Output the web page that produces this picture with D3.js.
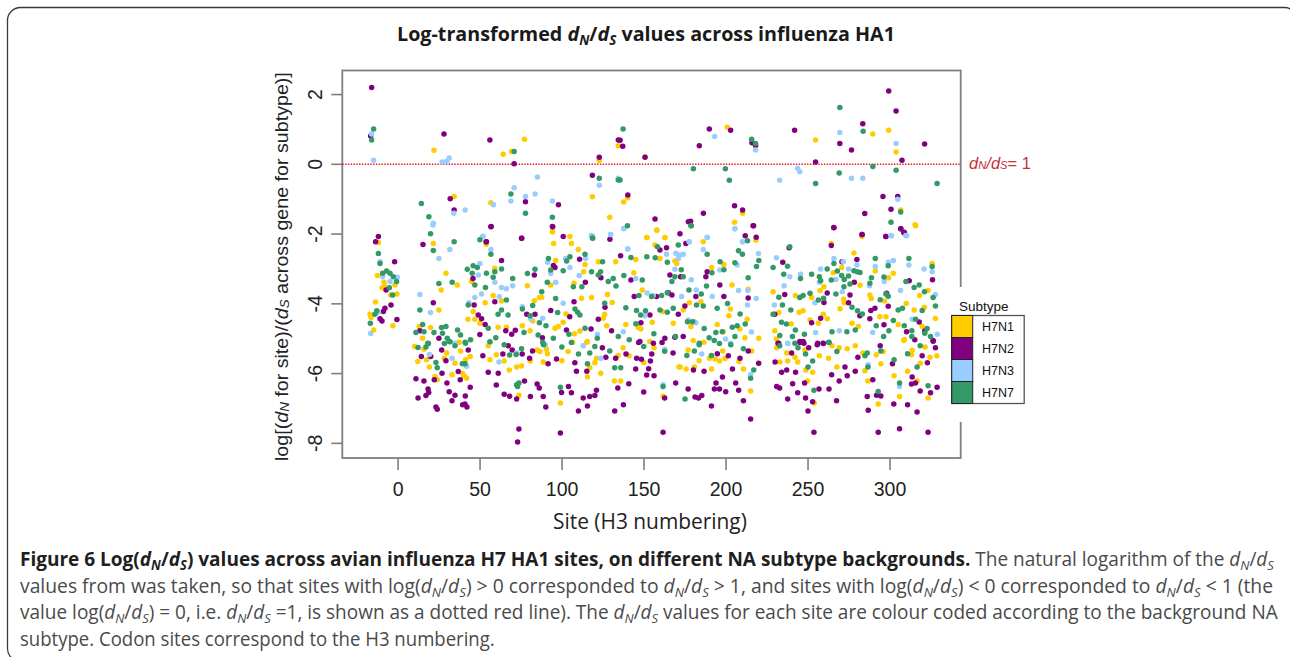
<!DOCTYPE html>
<html><head><meta charset="utf-8">
<script src="https://cdn.jsdelivr.net/npm/d3@7/dist/d3.min.js"></script>
<style>html,body{margin:0;padding:0;background:#fff;overflow:hidden}svg{display:block}</style>
</head><body><div id="chart"></div>
<script>
const subtypes = ["H7N1","H7N2","H7N3","H7N7"];
const subtypeColors = ["#ffcc00","#800080","#99ccff","#339966"];
const xTicks = [0,50,100,150,200,250,300];
const yTicks = [2,0,-2,-4,-6,-8];
const titleText = "values across influenza HA1";

const h7n1 = [[-11.7,-2.24],[21.8,-2.27],[54,-2.29],[29.5,-3.12],[36.4,-3.46],[26.6,-3.6],[-12.3,-3.19],[-8.3,-3.38],[-9.5,-3.54],[-7.7,-3.5],[-1.6,-3.46],[-0.4,-3.72],[-4.2,-3.75],[-13.4,-3.95],[25.2,-4.18],[-16.8,-4.3],[-16.2,-4.39],[-2.8,-4.63],[-14.6,-4.75],[59.3,-2.98],[58.3,-3.76],[53.4,-3.97],[46.1,-4.22],[42.9,-4.44],[47.1,-4.44],[50.2,-4.56],[61.3,-4.67],[66.4,-4.67],[63.4,-3.92],[13.2,-4.65],[20.1,-4.68],[15.3,-4.99],[37.6,-5.1],[45.1,-3.36],
[94.6,-1.93],[105.1,-2.07],[95.2,-2.27],[106,-2.27],[110.2,-2.44],[158,-1.88],[152,-2.1],[157,-2.31],[96.4,-2.76],[114.3,-2.87],[113.5,-3.08],[122.4,-2.79],[133,-2.79],[145.3,-2.73],[144.1,-3.11],[93.4,-3.46],[79.2,-3.48],[107.6,-3.41],[112.2,-3.84],[118.3,-3.82],[128,-3.73],[130.9,-3.96],[149.2,-3.6],[83.4,-3.91],[87.9,-3.81],[86.5,-3.82],[102.7,-4.29],[126.3,-4.3],[125.4,-4.41],[127.5,-4.63],[139.2,-4.59],[146.8,-4.68],[148.4,-4.72],[155.3,-4.53],[76.1,-4.63],[80.8,-4.77],[82.4,-4.49],[98,-4.65],[96,-4.7],[101,-4.53],[107.8,-4.86],[111.2,-4.78],[106.8,-5.1],[115.7,-5.08],
[163,-2.1],[186.4,-2.22],[160,-2.7],[169.1,-2.77],[170.2,-2.84],[191.5,-2.96],[199,-2.87],[204,-3.46],[213.8,-3.58],[229,-3.65],[242.6,-3.76],[177.9,-3.97],[185,-3.94],[174.2,-4.18],[161.6,-4.22],[203,-4.15],[202,-4.34],[213.2,-4.44],[232.5,-4.25],[244.9,-4.24],[247.3,-4.2],[168.1,-4.56],[178.9,-4.65],[180.9,-4.51],[194.9,-4.59],[208.7,-4.72],[240,-4.57],[230,-4.77],[211.8,-4.97],[220.3,-4.99],[198.6,-4.8],[180.3,-5.05],[186.8,-5.1],[231,-5.01],
[283.2,-2.07],[315.9,-1.76],[278.3,-2.54],[264.5,-2.27],[326,-2.84],[291.3,-3.06],[302.3,-3.12],[270.8,-2.96],[265.7,-3.11],[299.4,-3.25],[282,-3.47],[260,-3.51],[257.6,-3.62],[323.4,-3.62],[288,-3.75],[288.9,-3.85],[252.5,-3.82],[272,-3.87],[272.4,-3.97],[297,-3.92],[310.2,-3.99],[318.3,-3.76],[269.8,-4.14],[315,-4.18],[321.3,-4.1],[328,-4.42],[294.1,-4.37],[297.8,-4.37],[259.6,-4.3],[262,-4.43],[277.1,-4.56],[280.9,-4.65],[256.6,-4.56],[305.3,-4.59],[319.9,-4.65],[309,-5.02],[251.5,-4.46],
[12.3,-5.65],[17.7,-5.6],[19.4,-5.81],[28.5,-5.56],[35,-5.7],[38.4,-5.35],[29.9,-5.41],[41.5,-5.6],[44.3,-5.51],[33.2,-6.03],[39.5,-5.99],[22.8,-6.08],[24.2,-6.18],[42.1,-6.13],[40.5,-6.06],[55.3,-5.2],[56.3,-5.6],[60.2,-5.46],[65,-5.64],[68.1,-5.9],[72.6,-5.81],[75.6,-5.78],[74,-6.62],[99.3,-6.84],[80.9,-5.64],[85.1,-5.32],[86.8,-5.37],[90.8,-5.3],[91.4,-5.43],[88.8,-5.67],[100.2,-5.63],[104,-5.37],[117.2,-5.83],[120.3,-5.69],[121.3,-5.56],[115.8,-6.1],[123.9,-5.99],[132.2,-6.21],[136.1,-6.21],[134.5,-5.48],[137.5,-5.26],[141.2,-5.49],[150.1,-5.68],[156.4,-5.26],[153.8,-5.08],[115.4,-5.1],[161.9,-6.65],[171.6,-5.81],[37.4,-5.11],[16.1,-5.3],[10.4,-5.22],
[176,-5.87],[172.3,-5.81],[181,-5.81],[191.4,-5.87],[183.9,-5.63],[177.2,-5.32],[190.2,-5.56],[193.6,-5.58],[196.3,-5.64],[199.7,-5.57],[198.3,-5.35],[208.2,-5.65],[210.9,-5.87],[216,-5.35],[215.3,-6.5],[233.2,-5.67],[237.9,-5.64],[244,-5.67],[237.3,-5.41],[242.3,-5.53],[248.4,-5.32],[249,-5.9],[253.1,-5.96],[257.2,-5.49],[262.8,-5.56],[264.9,-5.2],[269.3,-5.26],[274.2,-5.29],[279.1,-5.2],[267.9,-5.81],[285,-5.92],[283.7,-5.41],[291.9,-5.46],[294.7,-5.72],[296.1,-5.37],[286.8,-6.21],[302.8,-6.06],[311,-5.93],[313.8,-5.33],[313.4,-5.46],[318.7,-5.7],[321.7,-5.24],[324.7,-5.53],[328.8,-5.49],[250,-6.21],[316.8,-6.21],[306.1,-6.66],[293.1,-6.87],[323.5,-6.7],[254.1,-6.84],[231.2,-5.26],[308.7,-5.05],
[22.2,0.4],[64.4,0.29],[69.5,0.37],[77.4,0.72],[134.6,0.53],[123,0.11],[34.5,-0.92],[56.9,-1.1],[118.8,-0.93],[129.4,-1.52],[94.4,-1.93],
[201,1.06],[299.5,0.98],[289.8,0.87],[254.9,0.7],[304,0.35],[150.9,0.22],[218.3,0.52],[137.9,-1.08],[140.4,-0.96],[210.4,-1.4],[205.5,-1.66],[306.8,-1.31],[315.6,-1.73],[158.2,-1.89],[152.1,-2.1],[163.1,-2.1],[283.3,-2.05],[218.5,-2.17]];

const h7n2 = [[-11.7,-2.07],[-13.4,-2.22],[15.5,-2.3],[-1.8,-2.79],[54,-2.22],[56.9,-1.79],[63.4,-2.76],[21.8,-3.97],[-4,-4.03],[-7.7,-4.13],[-8.7,-4.22],[-0.4,-4.45],[-10.7,-4.43],[-9.5,-4.49],[46,-3.27],[46.7,-4.03],[49.2,-4.32],[51.2,-4.43],[53.4,-4.59],[59.3,-3.94],[66,-4.77],[50.2,-4.88],[13.6,-4.77],[25.2,-4.99],[-7,-3.6],
[94.6,-1.79],[75.7,-2.12],[101,-2.07],[129.5,-2.15],[136,-2.62],[111,-2.72],[95,-2.9],[96,-2.96],[114.5,-3.38],[124,-3.25],[83.4,-3.17],[107.6,-3.94],[126.5,-4.1],[93.4,-4.19],[78.8,-4.3],[83.8,-4.3],[105,-4.37],[122.4,-4.44],[103,-4.75],[118,-4.72],[130.5,-4.77],[88.3,-4.97],[71.8,-4.76],[69.6,-4.87],[142.3,-3.32],[144.3,-3.79],[157.9,-3.79],[153.9,-4.32],[148.4,-4.54],[147.8,-5.08],[156,-5.13],
[172.2,-1.99],[212,-2.05],[218.7,-2.09],[216.8,-1.76],[175.8,-2.27],[160,-2.46],[164,-2.39],[188.8,-3.08],[188,-3.22],[166.1,-3.17],[172.6,-3.22],[196.5,-3.46],[165.1,-3.68],[167.3,-3.75],[181.9,-3.79],[199,-3.79],[213.8,-3.83],[234.9,-2.81],[238.8,-2.39],[236.1,-3.73],[175.2,-4.06],[171.2,-4.3],[230,-4.3],[163,-4.99],[174.2,-4.94],[169.1,-4.96],[232,-5.13],[245.3,-5.08],[247.3,-5.08],
[266.1,-1.82],[283.2,-2.01],[297.8,-2.07],[306.9,-1.85],[309,-1.95],[264.5,-2.33],[271,-2.79],[280.1,-2.73],[278.5,-3.38],[312,-3.34],[326.2,-3.31],[262,-3.69],[275.9,-3.75],[260,-3.96],[275,-3.97],[298.2,-3.7],[299.2,-4.07],[291.1,-4.13],[288.6,-4.19],[281.9,-4.34],[288,-4.43],[258,-4.41],[252.5,-4.54],[296.6,-4.6],[318.1,-4.52],[310.4,-4.8],[321.5,-4.78],[315.4,-5.03],[326.6,-5.05],[256.2,-5.13],[259.6,-5.13],
[14.5,-5.51],[26.9,-5.32],[29.5,-5.63],[20.2,-5.51],[43.1,-5.32],[11.2,-6.15],[16.1,-6.21],[22.4,-6.18],[27.1,-5.99],[37,-5.94],[30.1,-6.27],[38.2,-6.18],[44.3,-6.39],[18.6,-6.44],[19,-6.54],[17.3,-6.63],[12.5,-6.7],[31.5,-6.52],[35,-6.62],[41.3,-6.64],[33.2,-6.78],[39.7,-6.89],[41.1,-6.87],[42.3,-6.96],[23.4,-6.96],[24.2,-7.02],[52,-5.49],[55.3,-5.96],[61.4,-5.99],[60.2,-6.33],[64.2,-5.44],[67.5,-5.2],[69.9,-5.32],[76,-5.44],[82.3,-5.35],[80.5,-5.56],[77.4,-6.21],[65,-6.59],[68.3,-6.65],[72.6,-6.73],[81,-6.66],[88.8,-6.66],[90.4,-6.96],[85.1,-6.3],[86.4,-6.41],[91.8,-5.72],[96.9,-5.58],[108.1,-5.69],[109.1,-5.93],[115.4,-5.93],[100,-6.54],[104.2,-6.37],[106,-6.55],[121.3,-6.48],[113.2,-6.7],[117.2,-6.66],[120.3,-6.63],[115.8,-6.93],[110.3,-7.07],[127,-5.53],[124.9,-5.26],[133,-5.56],[139.3,-5.44],[134.3,-6.41],[141,-6.29],[137.7,-6.89],[132.4,-7.07],[150.1,-6.53],[145.2,-5.87],[153.1,-5.86],[151.9,-6.04],[156.4,-6.06],[145.8,-5.56],[148.7,-5.59],[154.2,-5.64],[155,-5.44],[162.9,-6.7],[169.6,-6.27],[168,-5.41],[74,-7.59],[73.2,-7.96],[99.3,-7.7],[161.9,-7.68],[147,-5.11],[161.3,-5.11],
[230.2,-5.67],[232.4,-5.13],[240.3,-5.41],[245.4,-5.11],[247.8,-5.13],[250.7,-5.26],[255.9,-5.17],[259.6,-5.14],[180.4,-5.9],[186.9,-5.93],[204.2,-5.87],[195,-5.43],[201.7,-5.49],[208.8,-5.56],[213.9,-5.35],[220.2,-5.7],[234.2,-5.96],[237.3,-5.9],[242.7,-5.96],[198.1,-6.1],[194.2,-6.27],[206.2,-6.27],[177.2,-6.44],[193.2,-6.44],[196.3,-6.44],[200.1,-6.52],[208,-6.48],[231.2,-6.37],[233,-6.41],[240.9,-6.29],[248.2,-6.27],[244,-6.55],[257,-6.44],[263.1,-6.44],[237.9,-6.73],[248.8,-6.7],[253.1,-6.81],[267.7,-6.78],[181.4,-6.67],[183.5,-6.7],[185.5,-6.63],[210.9,-6.78],[191.4,-6.93],[250.3,-7.07],[215.3,-7.3],[253.9,-7.68],[293.1,-7.68],[306.1,-7.58],[323.5,-7.68],[264.7,-6.03],[269.3,-6.21],[272.8,-5.81],[274.2,-6.06],[279.1,-5.93],[280.7,-5.53],[294.3,-5.2],[289.8,-6.18],[286.4,-6.66],[292.1,-6.62],[294.7,-6.64],[287,-7.05],[302.6,-6.87],[311,-6.89],[316.8,-7.1],[301.8,-5.72],[313.8,-6.1],[313.4,-6.3],[315.8,-6.27],[318.7,-6.5],[325,-6.55],[329,-6.39],[319.9,-5.49],[323.1,-5.69],[328,-5.26],[326.6,-5.07],
[-15.8,2.2],[-16.4,0.81],[28.3,0.87],[56.3,0.7],[71.1,0.02],[123,0.2],[118.8,-0.31],[134.6,0.7],[32.1,-0.99],[34.5,-1.31],[78,-1.07],[98.1,-1.16],[57.1,-1.78],[94.4,-1.78],[75.6,-2.12],[54.2,-2.22],
[299.5,2.1],[304,1.53],[190.1,1.01],[203.1,0.98],[242.1,0.98],[283.7,1.16],[135.7,0.69],[137.3,0.52],[184,0.53],[216.1,0.62],[218.3,0.55],[269.7,0.6],[276.8,0.41],[321.4,0.58],[150.9,0.2],[254.9,0.07],[307.6,0.12],[296,-0.92],[305,-0.92],[140.4,-0.88],[205.5,-1.19],[210.4,-1.31],[300.9,-1.29],[284.9,-1.41],[186.5,-1.4],[157,-1.57],[266,-1.81],[217.1,-1.76],[178.7,-1.63],[177.3,-1.65],[306.8,-1.85],[308.7,-1.96],[283.3,-2.01],[297.7,-2.07]];

const h7n3 = [[21.6,-1.74],[31.9,-2.44],[25.2,-2.7],[52.2,-2.06],[56.9,-2.44],[-10.7,-2.79],[-0.2,-3.24],[-4.6,-3.36],[-9.1,-3.22],[13.6,-3.73],[20.1,-4.25],[-16.4,-4.85],[-11.7,-4.24],[50.2,-2.84],[49.2,-3.17],[59.3,-3.38],[63.4,-3.53],[66.4,-3.57],[51.2,-3.72],[47.1,-3.82],[62,-3.8],[43.5,-3.97],[35,-5.13],[56.3,-5.1],
[138,-1.84],[130,-2.01],[118.7,-2.05],[140.3,-2.43],[70.2,-3.48],[96.4,-3.38],[110.8,-3.19],[102.5,-2.7],[91.5,-2.81],[114.7,-2.7],[105.1,-2.96],[93.4,-3.13],[101,-3.98],[76.1,-4.08],[145.3,-3.27],[152.2,-3.69],[155.9,-3.76],[150.8,-4.34],[137.6,-4.8],[121.8,-4.87],[81.2,-4.43],[88.5,-4.41],
[205.7,-1.85],[188.8,-2.09],[177.9,-2.22],[210.3,-2.22],[186.4,-2.44],[169.7,-2.55],[172.2,-2.6],[174.2,-2.58],[171.2,-2.7],[164,-2.58],[220.1,-2.56],[231,-2.68],[207.1,-2.89],[196.5,-3.03],[169.1,-3.01],[179.1,-3.31],[239.2,-3.22],[245.7,-3.15],[235.7,-3.48],[182.1,-3.6],[207.9,-3.62],[213.6,-3.62],[173.2,-3.79],[191.9,-3.79],[218.7,-3.85],[213.4,-4.03],[229.8,-4.03],[245.3,-3.82],[177.3,-4.46],[181.9,-4.54],[215.8,-4.81],[200,-5.01],[203,-5.13],[237.8,-5.13],
[266.1,-2.7],[258,-3],[275,-3],[280.1,-2.89],[291.3,-2.93],[299.2,-2.81],[302.3,-2.76],[311.8,-2.89],[321.1,-3],[326,-3.08],[271.8,-2.79],[267.3,-3.3],[296.8,-3.36],[257.2,-3.38],[287.8,-3.48],[271.2,-3.65],[306.7,-3.62],[328,-3.73],[254.5,-3.97],[301.2,-2.05],[310.4,-2.05],[254.9,-4.82],[269.4,-4.77],[289.7,-4.82],[313.8,-4.44],[329.1,-4.87],
[19.4,-5.45],[33.2,-5.56],[42.1,-5.79],[61.8,-5.67],[113.2,-5.2],[123.9,-5.56],[161.9,-6.32],[72.6,-5.41],[90.2,-5.17],[162.9,-5.3],[185.5,-5.44],[238.1,-5.14],[215.3,-6.03],[287,-5.75],[306.1,-6.37],
[-15.8,0.87],[-14.6,0.12],[27.2,0.07],[29.9,0.08],[31.5,0.18],[85.3,-0.36],[71.1,-0.67],[83.9,-0.85],[78,-0.92],[69.1,-1.05],[58.5,-1.16],[41.2,-1.31],[34.3,-1.4],[94.4,-1.05],[123,-0.6],[134.6,-0.4],[21.8,-1.69],[51.8,-2.07],[129.8,-2.01],[118.2,-2.04],
[193.4,0.8],[269.7,0.91],[304,0.6],[218.3,0.41],[243.9,-0.11],[245.3,-0.21],[233,-0.46],[276.8,-0.4],[283.7,-0.4],[305,-1],[137.9,-1.85],[205.7,-1.85],[300.9,-2.04],[309.9,-2.04],[188.9,-2.1],[177.9,-2.22],[210.4,-2.22],[140.4,-2.43]];

const h7n7 = [[20.1,-1.99],[34.5,-2.22],[21.8,-2.47],[-11.7,-2.56],[50.2,-2.16],[56.9,-2.58],[-10.7,-2.84],[-9.1,-3.12],[-6.7,-3.06],[-4.6,-3.12],[-2.6,-3.22],[-0.6,-3.36],[-5,-3.54],[-3,-3.75],[-12.7,-4.2],[-13.8,-4.3],[-16.6,-4.56],[25.2,-3.42],[33.3,-3.38],[46.1,-2.91],[48.6,-2.96],[42.5,-3.01],[45.5,-3.12],[54.2,-3.12],[63.4,-3],[59.3,-3.08],[58.3,-3.24],[47.1,-3.46],[53.6,-3.53],[13.6,-4.18],[43.1,-4.03],[66.4,-3.89],[63.4,-4.18],[61.3,-4.3],[67.4,-4.32],[15.3,-4.59],[11.2,-4.82],[16.1,-4.8],[26.8,-4.68],[29.5,-4.65],[22.2,-4.82],[27.4,-4.84],[30.3,-4.99],[31.5,-5.08],[36.6,-4.75],[38.4,-4.89],[44.5,-5.03],[41.2,-5.1],[55.3,-4.7],[59.9,-4.97],[18.5,-5.13],
[119,-2.12],[92,-2.7],[105.1,-2.65],[103.1,-2.77],[114.3,-2.58],[101,-3.05],[93.4,-3.03],[83.8,-3.01],[79.2,-3.13],[70.2,-3.27],[91.3,-3.38],[107.2,-3.51],[112.4,-3.51],[118.3,-3.08],[123.8,-3.08],[122.4,-3.17],[125,-2.79],[142.3,-2.67],[152,-2.65],[157.1,-2.68],[138,-3.19],[149.2,-3.32],[131.5,-3.27],[128.5,-3.36],[133.2,-3.49],[87.9,-3.65],[96.4,-3.85],[82.4,-4.05],[76.1,-4.15],[80.8,-4.34],[86.5,-4.54],[90.5,-4.63],[97.6,-4.25],[108.2,-4.15],[109.8,-4.24],[111.2,-4.32],[126.3,-3.98],[139.2,-4.11],[145.7,-4.19],[151.2,-4.2],[148.2,-4.32],[145.3,-4.57],[154.9,-3.79],[147.2,-3.76],[158.5,-2.36],[114.3,-4.7],[104.5,-4.87],[85.7,-4.89],[77.1,-4.82],[95,-4.99],[88.5,-5.1],[121.8,-4.99],[134.6,-4.94],[141.3,-5.03],[156.3,-4.86],
[178.9,-1.76],[171.2,-2.31],[213.4,-2.19],[239.2,-2.36],[207.9,-2.48],[210.3,-2.58],[188.8,-2.58],[220.3,-2.76],[196.7,-2.79],[205.7,-2.82],[199,-3.02],[218.9,-2.93],[229,-2.96],[237.8,-2.92],[235.5,-3.15],[164.5,-2.81],[173,-3.02],[191.7,-3.11],[169.1,-3.22],[174.2,-3.22],[167.3,-3.36],[213.8,-3.25],[245.7,-3.27],[188.4,-3.49],[177.7,-3.6],[185.2,-3.72],[161,-3.76],[164.5,-3.68],[232.5,-3.81],[245.3,-3.82],[247.3,-3.76],[182.3,-4.03],[186.4,-4.06],[201.2,-3.99],[194.9,-4.13],[168.1,-4.13],[164.5,-4.24],[160,-4.18],[234.7,-4.03],[208.9,-4.29],[239.8,-4.18],[229,-4.3],[179.9,-4.51],[176.8,-4.51],[187,-4.71],[212,-4.58],[207.1,-4.63],[204.1,-4.67],[234.1,-4.53],[237.1,-4.58],[242.6,-4.75],[248.1,-4.87],[240.8,-4.94],[233.1,-4.91],[198,-4.8],[194.1,-4.82],[190,-4.97],[193.1,-5.05],[184,-5.13],[169.5,-4.94],[205.7,-4.94],
[266.1,-2.84],[291.3,-2.7],[311.8,-2.7],[299.2,-2.91],[326,-2.93],[262,-3],[268.2,-3.06],[278.3,-3.05],[280.3,-3.08],[282,-3.1],[252.5,-3.15],[257.2,-3.22],[258,-3.34],[270.8,-3.19],[272.4,-3.3],[275,-3.2],[264.5,-3.32],[289,-3.25],[288,-3.41],[296.6,-3.23],[272.2,-3.51],[275.9,-3.43],[310,-3.36],[315,-3.53],[318.1,-3.46],[321.3,-3.65],[267.3,-3.72],[326.6,-3.82],[259.8,-3.84],[256.6,-3.89],[251.5,-3.7],[294.3,-3.88],[297.8,-3.72],[299.2,-3.78],[328,-4.06],[305.3,-4.18],[307.9,-4.13],[319.9,-4.19],[277.1,-4.1],[280.5,-4.2],[283.4,-4.29],[302.3,-4.48],[309,-4.63],[291.9,-4.63],[299.6,-4.77],[264.9,-4.8],[274,-4.8],[279.1,-4.75],[296.4,-4.94],[313.6,-4.77],[315.9,-4.44],[322.9,-4.71],[321.5,-4.84],[313.6,-4.94],[325,-4.94],[263,-5.1],
[12.5,-5.25],[17.3,-5.24],[18.8,-5.14],[23.4,-5.68],[24.2,-5.83],[28.5,-5.14],[32,-5.09],[35,-5.2],[39.5,-5.72],[41.1,-5.72],[41.5,-5.13],[56.3,-5.09],[65,-5.17],[68.3,-5.47],[72.3,-5.45],[75.6,-5.29],[89,-5.17],[100.2,-5.24],[106,-5.11],[110.3,-5.44],[117.2,-5.41],[120.3,-5.22],[115.8,-5.72],[129.4,-5.35],[132.4,-5.83],[136.1,-5.83],[162.9,-5.36],[150.1,-5.22],[99.3,-6.39],[72.6,-6.32],[74,-6.27],[73.2,-6.37],[161.9,-6.37],
[176.4,-5.48],[181,-5.35],[183.9,-5.17],[196.3,-5.14],[203.2,-5.17],[191.4,-5.48],[210.9,-5.29],[217.2,-5.9],[215.3,-6.13],[175.3,-6.73],[233,-5.2],[242.3,-5.13],[244.2,-5.26],[248.8,-5.44],[253.1,-5.64],[250.3,-5.81],[253.9,-6.48],[263.1,-5.11],[267.9,-5.37],[285,-5.49],[286.4,-5.41],[286.8,-5.81],[294.7,-5.35],[293.1,-6.51],[302.8,-5.6],[311,-5.43],[316.8,-5.81],[318.7,-5.2],[306.1,-6.27],[323.5,-6.35],
[-14.6,1.01],[-15.8,0.7],[71.1,0.37],[123,-0.4],[134.6,-0.45],[14.5,-1.12],[19.1,-1.5],[69.1,-0.85],[78,-1.4],[94.4,-1.52],[118.8,-2.11],
[137.5,1.01],[283.9,0.95],[269.7,1.63],[215.9,0.72],[218.3,0.6],[180.4,-0.13],[199.9,-0.13],[202.3,-0.46],[289.8,-0.06],[304,-0.17],[269.3,-0.25],[254.9,-0.55],[329,-0.55],[135.7,-0.45],[306.8,-1.37],[300.9,-1.66],[179.1,-1.76],[140.2,-1.76]];

const seriesList = [h7n1,h7n2,h7n3,h7n7];

const W=1290,H=657;
const svg=d3.select("#chart").append("svg").attr("width",W).attr("height",H);
const ARIAL="'Liberation Sans',Arial,sans-serif", BODY="'Open Sans','Noto Sans',sans-serif";

// card
svg.append("rect").attr("x",7.5).attr("y",7.5).attr("width",1290).attr("height",654).attr("rx",13)
  .attr("fill","#fff").attr("stroke","#3a3a3a").attr("stroke-width",1.3);

const L=342.3,R=960.7,T=70.5,B=458;
const x=d3.scaleLinear().domain([-33.7,343.4]).range([L,R]);
const y=d3.scaleLinear().domain([2.69,-8.42]).range([T,B]);
const grey="#7f7f7f";

const gx=svg.append("g").attr("transform",`translate(0,${B})`)
  .call(d3.axisBottom(x).tickValues(xTicks).tickSize(12).tickPadding(12).tickFormat(d3.format("d")));
const gy=svg.append("g").attr("transform",`translate(${L},0)`)
  .call(d3.axisLeft(y).tickValues(yTicks).tickSize(11).tickPadding(0).tickFormat(d=>String(d)));
[gx,gy].forEach(g=>{g.select(".domain").remove();
  g.selectAll("line").attr("stroke",grey).attr("stroke-width",1.6);
  g.selectAll("text").attr("fill","#222").attr("font-family",ARIAL).attr("font-size",19.5);});
gy.selectAll("text").attr("text-anchor","middle").attr("x",0).attr("dy",0).attr("y",0)
  .attr("transform",d=>`translate(-20,${y(d)}) rotate(-90)`);
gy.selectAll(".tick").attr("transform",null);
gy.selectAll(".tick line").attr("y1",d=>y(d)).attr("y2",d=>y(d));

svg.append("rect").attr("x",L).attr("y",T).attr("width",R-L).attr("height",B-T)
  .attr("fill","none").attr("stroke",grey).attr("stroke-width",1.8);

svg.append("line").attr("x1",L).attr("x2",R).attr("y1",y(0)).attr("y2",y(0))
  .attr("stroke","#ee1122").attr("stroke-width",1.5).attr("stroke-dasharray","1.4 1.4");

svg.append("g").selectAll("g").data(seriesList).join("g")
  .attr("fill",(d,i)=>subtypeColors[i])
  .selectAll("circle").data(d=>d).join("circle")
  .attr("cx",d=>x(d[0])).attr("cy",d=>y(d[1])).attr("r",2.75);

// rich-text helper: [text, italic?, sub?, bold?]
function rich(sel,parts,base,drop=0.22){
  let down=false;
  parts.forEach(p=>{
    const t=sel.append("tspan").text(p[0]);
    if(p[1]) t.attr("font-style","italic");
    if(p[3]) t.attr("font-weight","bold");
    if(p[2]){ t.attr("font-size",base*0.68).attr("dy",base*drop); down=true; }
    else if(down){ t.attr("dy",-base*drop); down=false; }
  });
}
function fit(t,x0,y0,w){
  const len=t.node().getComputedTextLength();
  t.attr("transform",`translate(${x0},${y0}) scale(${w/len},1)`);
}

// title
const ttl=svg.append("text").attr("font-family",BODY).attr("font-weight","bold").attr("font-size",20).attr("fill","#1a1a1a");
rich(ttl,[["Log-transformed "],["d",1],["N",1,1],["/"],["d",1],["S",1,1],[" "+titleText]],20);
fit(ttl,397,41,498);

// x label
const xl=svg.append("text").attr("font-family",BODY).attr("font-size",21).attr("fill","#222").text("Site (H3 numbering)");
fit(xl,553,529,194);

// y label
const yl=svg.append("text").attr("font-family",ARIAL).attr("font-size",18.5).attr("fill","#222");
rich(yl,[["log[("],["d",1],["N",1,1],[" for site)/("],["d",1],["S",1,1],[" across gene for subtype)]"]],18.5,0.03);
const ylLen=yl.node().getComputedTextLength();
yl.attr("transform",`translate(288,461) rotate(-90) scale(${389/ylLen},1)`);

// dN/dS = 1
const red=svg.append("text").attr("font-family",ARIAL).attr("font-size",16).attr("fill","#c8303a");
rich(red,[["d",1],["N",1,1],["/",1],["d",1],["S",1,1],["= 1"]],16,0.03);
fit(red,969,169,62);

// legend
const lg=svg.append("g");
lg.append("rect").attr("x",950).attr("y",287).attr("width",14).attr("height",135).attr("fill","#fff");
const rowH=22;
const lx=951.7,ly=315.5,sw=21,lw=72.5;
lg.append("rect").attr("x",lx).attr("y",ly).attr("width",lw).attr("height",rowH*subtypes.length).attr("fill","#fff").attr("stroke","#555").attr("stroke-width",1.3);
subtypes.forEach((s,i)=>{
  lg.append("rect").attr("x",lx).attr("y",ly+i*rowH).attr("width",sw).attr("height",rowH).attr("fill",subtypeColors[i]).attr("stroke","#222").attr("stroke-width",1);
  lg.append("text").attr("x",998).attr("y",ly+i*rowH+15.5).attr("text-anchor","middle").attr("font-family",ARIAL).attr("font-size",12.5).attr("fill","#111").text(s);
});
lg.append("text").attr("x",959).attr("y",311).attr("font-family",ARIAL).attr("font-size",13.5).attr("fill","#111").text("Subtype");

// caption
const capLines=[
 {y:566,w:1255,parts:[["Figure 6 Log(",0,0,1],["d",1,0,1],["N",1,1,1],["/",0,0,1],["d",1,0,1],["S",1,1,1],[") values across avian influenza H7 HA1 sites, on different NA subtype backgrounds.",0,0,1],[" The natural logarithm of the "],["d",1],["N",1,1],["/"],["d",1],["S",1,1]]},
 {y:592.5,w:1254,parts:[["values from was taken, so that sites with log("],["d",1],["N",1,1],["/"],["d",1],["S",1,1],[") > 0 corresponded to "],["d",1],["N",1,1],["/"],["d",1],["S",1,1],[" > 1, and sites with log("],["d",1],["N",1,1],["/"],["d",1],["S",1,1],[") < 0 corresponded to "],["d",1],["N",1,1],["/"],["d",1],["S",1,1],[" < 1 (the"]]},
 {y:619,w:1258,parts:[["value log("],["d",1],["N",1,1],["/"],["d",1],["S",1,1],[") = 0, i.e. "],["d",1],["N",1,1],["/"],["d",1],["S",1,1],[" =1, is shown as a dotted red line). The "],["d",1],["N",1,1],["/"],["d",1],["S",1,1],[" values for each site are colour coded according to the background NA"]]},
 {y:645.5,w:475,parts:[["subtype. Codon sites correspond to the H3 numbering."]]}
];
capLines.forEach(l=>{
  const t=svg.append("text").attr("font-family",BODY).attr("font-size",19.5).attr("fill","#4a4a4a");
  rich(t,l.parts,19.5);
  t.selectAll("tspan").filter(function(){return this.getAttribute("font-weight")==="bold";}).attr("fill","#1f1f1f");
  fit(t,20,l.y,l.w);
});
</script></body></html>
